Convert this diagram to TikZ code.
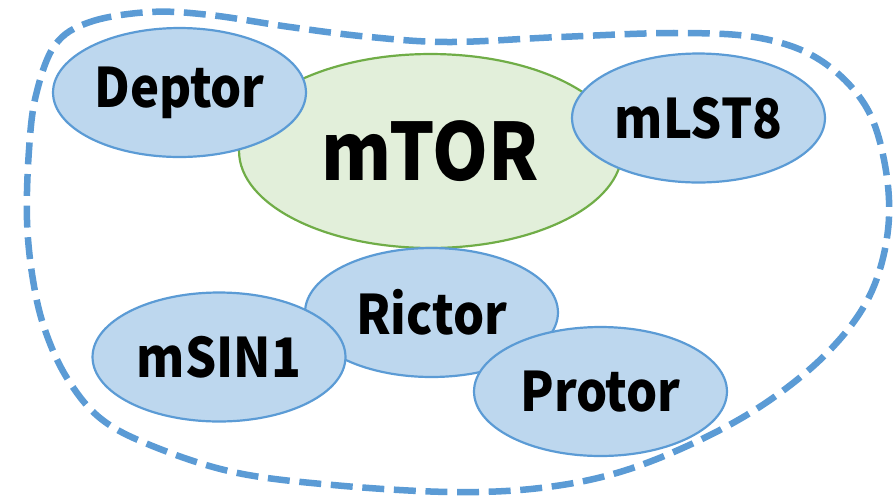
\documentclass[tikz,border=0pt]{standalone}
\usepackage{fontspec}
\setmainfont{Noto Sans CJK JP}[FakeStretch=0.9]
\usepackage{tikz}
\usetikzlibrary{shapes.geometric, positioning}

\begin{document}
\begin{tikzpicture}[x=0.02cm, y=-0.02cm]

% ------------------------
% Colors
% ------------------------
\definecolor{colBfill}{HTML}{BDD7EE}
\definecolor{colBline}{HTML}{5B9BD5}
\definecolor{colGfill}{HTML}{E2EFDA}
\definecolor{colGline}{HTML}{70AD47}

% Size of each protein ellipse
\def\ew{5.06cm}
\def\eh{2.58cm}

\tikzset{
  prot/.style={ellipse, draw=colBline, fill=colBfill, line width=1.25pt,
    minimum width=\ew, minimum height=\eh, inner sep=0pt,
    font=\bfseries\fontsize{31}{31}\selectfont},
  core/.style={ellipse, draw=colGline, fill=colGfill, line width=1.25pt,
    minimum width=7.66cm, minimum height=3.88cm, inner sep=0pt,
    font=\bfseries\fontsize{45}{45}\selectfont}
}

\useasboundingbox (0,0) rectangle (894,495);

% ------------------------
% Dashed complex outline
% ------------------------
\draw[colBline, line width=3.7pt, dash pattern=on 12.5pt off 5.5pt]
  plot[smooth cycle, tension=0.6] coordinates {
    (55,45) (90,22) (150,12) (210,15) (290,27) (370,37) (450,42)
    (560,37) (677,33) (760,38) (820,60) (865,105) (885,165) (888,230)
    (870,295) (830,350) (770,400) (700,440) (620,472) (540,488)
    (450,492) (333,485) (233,472) (150,445) (100,418) (67,378)
    (45,330) (33,280) (27,220) (29,150) (36,95)};

% ------------------------
% Proteins
% ------------------------
\node[core] (mtor) at (430.5,151) {mTOR};
\node[prot] (deptor) at (179.5,92.5) {Deptor};
\node[prot] (mlst) at (698.5,118) {mLST8};
\node[prot] (rictor) at (431.5,312.5) {Rictor};
\node[prot] (protor) at (600.5,391.5) {Protor};
\node[prot] (msin) at (219,357) {mSIN1};

\end{tikzpicture}
\end{document}
